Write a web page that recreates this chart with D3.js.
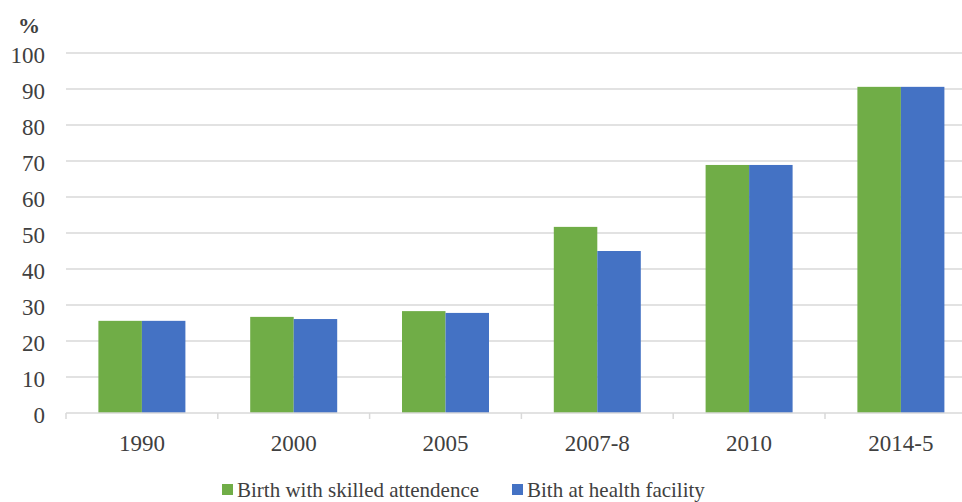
<!DOCTYPE html>
<html>
<head>
<meta charset="utf-8">
<script src="https://cdn.jsdelivr.net/npm/d3@7"></script>
<style>
  html, body { margin: 0; padding: 0; background: #fff; }
  svg { display: block; }
</style>
</head>
<body>
<svg id="chart" width="962" height="502" font-family="'Liberation Serif', 'Times New Roman', 'DejaVu Serif', serif"></svg>
<script>
const categories = ["1990", "2000", "2005", "2007-8", "2010", "2014-5"];
const seriesNames = ["Birth with skilled attendence", "Bith at health facility"];
const skilledAttendance = [25.6, 26.7, 28.3, 51.7, 68.9, 90.6];
const healthFacility = [25.6, 26.1, 27.8, 45.0, 68.9, 90.6];
const yTicks = [0, 10, 20, 30, 40, 50, 60, 70, 80, 90, 100];
const colors = ["#70AD47", "#4472C4"];
const textColor = "#404040";

const svg = d3.select("#chart");
const plot = { left: 66, top: 53, bottom: 413, step: 151.8 };
plot.right = plot.left + plot.step * categories.length;

const y = d3.scaleLinear().domain([0, 100]).range([plot.bottom, plot.top]);
const x = d3.scaleBand().domain(categories).range([plot.left, plot.right]).padding(0);
const groupWidth = 87;
const inner = d3.scaleBand().domain(seriesNames)
  .range([(x.bandwidth() - groupWidth) / 2, (x.bandwidth() + groupWidth) / 2]).padding(0);

// horizontal gridlines
svg.append("g").selectAll("line").data(yTicks.filter(d => d > 0)).join("line")
  .attr("x1", plot.left).attr("x2", 962)
  .attr("y1", d => y(d)).attr("y2", d => y(d))
  .attr("stroke", "#d9d9d9").attr("stroke-width", 1.5);

// y tick labels
svg.append("g").selectAll("text").data(yTicks).join("text")
  .attr("x", 45).attr("y", d => y(d) + 9.5)
  .attr("text-anchor", "end").attr("font-size", 23).attr("fill", textColor)
  .text(d => d);

svg.append("text").attr("x", 29).attr("y", 33).attr("text-anchor", "middle")
  .attr("font-size", 22).attr("font-weight", "bold").attr("fill", textColor).text("%");

// bars
const rows = categories.map((c, i) => ({ c, vals: [skilledAttendance[i], healthFacility[i]] }));
const groups = svg.append("g").selectAll("g").data(rows).join("g")
  .attr("transform", d => `translate(${x(d.c)},0)`);
groups.selectAll("rect").data(d => d.vals.map((v, j) => ({ name: seriesNames[j], v, j }))).join("rect")
  .attr("x", d => inner(d.name)).attr("width", inner.bandwidth())
  .attr("y", d => y(d.v)).attr("height", d => y(0) - y(d.v))
  .attr("fill", d => colors[d.j]);

// category axis
const xAxis = svg.append("g");
xAxis.append("line").attr("x1", plot.left).attr("x2", 962)
  .attr("y1", y(0)).attr("y2", y(0)).attr("stroke", "#d9d9d9").attr("stroke-width", 1.5);
xAxis.selectAll("line.tick").data(d3.range(categories.length + 1)).join("line")
  .attr("class", "tick")
  .attr("x1", i => plot.left + i * x.step()).attr("x2", i => plot.left + i * x.step())
  .attr("y1", y(0)).attr("y2", y(0) + 6).attr("stroke", "#d9d9d9").attr("stroke-width", 1.5);
xAxis.selectAll("text").data(categories).join("text")
  .attr("x", d => x(d) + x.bandwidth() / 2).attr("y", 451)
  .attr("text-anchor", "middle").attr("font-size", 23).attr("fill", textColor).text(d => d);

// legend
const legendPos = [222, 512];
const legend = svg.append("g").selectAll("g").data(seriesNames).join("g")
  .attr("transform", (d, i) => `translate(${legendPos[i]},484)`);
legend.append("rect").attr("width", 11).attr("height", 11).attr("fill", (d, i) => colors[i]);
legend.append("text").attr("x", 15).attr("y", 13).attr("font-size", 21)
  .attr("fill", textColor).text(d => d);
</script>
</body>
</html>
